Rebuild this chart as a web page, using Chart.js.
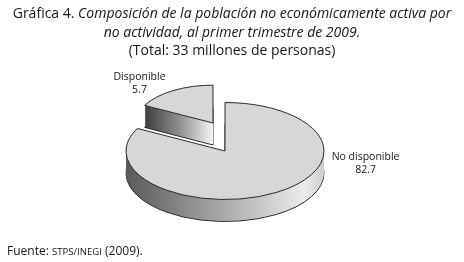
<!DOCTYPE html>
<html>
<head>
<meta charset="utf-8">
<script src="https://cdn.jsdelivr.net/npm/chart.js@4"></script>
<style>
html, body { margin: 0; padding: 0; background: #fff; }
#wrap { position: relative; width: 464px; height: 262px; overflow: hidden; font-family: "Open Sans", sans-serif; color: #161616; }
#chart { position: absolute; left: 0; top: 0; }
.t { position: absolute; left: 0; width: 464px; text-align: center; font-size: 14px; line-height: 16px; white-space: nowrap; }
#src { position: absolute; left: 7px; top: 243px; font-size: 12px; line-height: 16px; white-space: nowrap; }
.sc { font-size: 9.6px; }
</style>
</head>
<body>
<div id="wrap">
  <canvas id="chart" width="464" height="262"></canvas>
  <div class="t" style="top:5px">Gráfica 4. <i>Composición de la población no económicamente activa por</i></div>
  <div class="t" style="top:24px"><i>no actividad, al primer trimestre de 2009.</i></div>
  <div class="t" style="top:42px">(Total: 33 millones de personas)</div>
  <div id="src">Fuente: <span class="sc">STPS/INEGI</span> (2009).</div>
</div>
<script>
// shares in percent of the 33 million; labels print the published figures
const categories = ['No disponible', 'Disponible'];
const shares = [82.7, 17.3];
const labelValues = ['82.7', '5.7'];

const FLAT = 0.49;    // vertical squash of the pie
const DEPTH = 22;     // thickness of the disc in px
const PULL = [[0, 0], [-12, -28]];   // exploded slice, screen px
const SIZE = [1, 0.78];              // far slice looks smaller

function place(ctx, arc, i, dy) {
    ctx.translate(PULL[i][0], PULL[i][1] + dy);
    ctx.translate(arc.x, arc.y);
    ctx.scale(SIZE[i], SIZE[i] * FLAT);
    ctx.translate(-arc.x, -arc.y);
}

function sideFill(ctx, arc, i) {
    const r = arc.outerRadius;
    let g;
    if (i === 1) {
        g = ctx.createLinearGradient(arc.x - r * 0.9, 0, arc.x, 0);
        g.addColorStop(0, '#3a3a3a');
        g.addColorStop(0.5, '#8c8c8c');
        g.addColorStop(1, '#f4f4f4');
    } else {
        g = ctx.createLinearGradient(arc.x - r, 0, arc.x + r, 0);
        g.addColorStop(0, '#5a5a5a');
        g.addColorStop(0.5, '#ababab');
        g.addColorStop(0.9, '#ececec');
        g.addColorStop(1, '#cccccc');
    }
    return g;
}

const pie3d = {
    id: 'pie3d',
    beforeDatasetsDraw(chart) {
        const ctx = chart.ctx;
        const ratio = chart.currentDevicePixelRatio;
        const proto = CanvasRenderingContext2D.prototype.stroke;
        // keep outlines 1px wide even though the pie is squashed
        ctx.stroke = function () {
            this.save();
            this.setTransform(ratio, 0, 0, ratio, 0, 0);
            proto.apply(this, arguments);
            this.restore();
        };
        const arcs = chart.getDatasetMeta(0).data;
        const order = [1, 0];
        for (let dy = DEPTH; dy > 0; dy--) {
            order.forEach((i) => {
                const arc = arcs[i];
                const o = arc.options;
                ctx.save();
                place(ctx, arc, i, dy);
                arc.options = Object.assign({}, o, {
                    backgroundColor: sideFill(ctx, arc, i),
                    borderWidth: dy === DEPTH ? 1 : 0
                });
                arc.draw(ctx);
                arc.options = o;
                ctx.restore();
            });
        }
        order.forEach((i) => {
            ctx.save();
            place(ctx, arcs[i], i, 0);
            arcs[i].draw(ctx);
            ctx.restore();
        });
        delete ctx.stroke;
        return false;
    },
    afterDraw(chart) {
        const ctx = chart.ctx;
        const arcs = chart.getDatasetMeta(0).data;
        ctx.save();
        ctx.font = '10.5px "Open Sans", sans-serif';
        ctx.fillStyle = '#161616';
        ctx.textAlign = 'center';
        ctx.textBaseline = 'middle';
        arcs.forEach((arc, i) => {
            const r = arc.outerRadius;
            let x, y;
            if (i === 1) {
                const mid = (arc.startAngle + arc.endAngle) / 2;
                x = arc.x + Math.cos(mid) * r * 1.67;
                y = arc.y + Math.sin(mid) * r * FLAT * 1.62;
            } else {
                x = arc.x + r * 1.42;
                y = arc.y + 13;
            }
            ctx.fillText(categories[i], x, y - 6.5);
            ctx.fillText(labelValues[i], x, y + 6.5);
        });
        ctx.restore();
    }
};

new Chart(document.getElementById('chart'), {
    type: 'pie',
    data: {
        labels: categories,
        datasets: [{
            data: shares,
            backgroundColor: '#d6d7d9',
            borderColor: '#2a2a2a',
            borderWidth: 1,
            radius: 99,
            clip: false
        }]
    },
    plugins: [pie3d],
    options: {
        responsive: false,
        animation: false,
        events: [],
        layout: { padding: { left: 0, right: 14, top: 40, bottom: 0 } },
        plugins: {
            legend: { display: false },
            tooltip: { enabled: false },
            title: { display: false }
        }
    }
});
</script>
</body>
</html>
